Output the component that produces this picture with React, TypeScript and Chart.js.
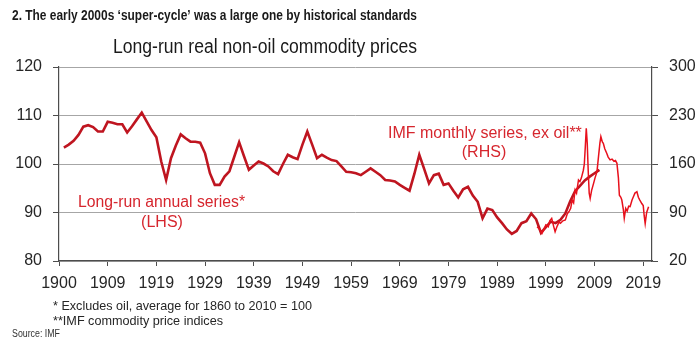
import React, { useEffect, useRef } from 'react';
import { Chart, registerables } from 'chart.js';

Chart.register(...registerables);

// ---------- DATA ----------
// x positions on the time axis (category index + 1900); tick labels as printed
const X_TICK_POSITIONS = [1900, 1910, 1920, 1930, 1940, 1950, 1960, 1970, 1980, 1990, 2000, 2010, 2020];
const X_TICK_LABELS = ['1900', '1909', '1919', '1929', '1939', '1949', '1959', '1969', '1979', '1989', '1999', '2009', '2019'];

const LHS_TICKS = [80, 90, 100, 110, 120];
const RHS_TICKS = [20, 90, 160, 230, 300];

// Long-run annual series (LHS), 1860-2010 average = 100
const ANNUAL_X = [
  1901, 1902, 1903, 1904, 1905, 1906, 1907, 1908, 1909, 1910,
  1911, 1912, 1913, 1914, 1915, 1916, 1917, 1918, 1919, 1920,
  1921, 1922, 1923, 1924, 1925, 1926, 1927, 1928, 1929, 1930,
  1931, 1932, 1933, 1934, 1935, 1936, 1937, 1938, 1939, 1940,
  1941, 1942, 1943, 1944, 1945, 1946, 1947, 1948, 1949, 1950,
  1951, 1952, 1953, 1954, 1955, 1956, 1957, 1958, 1959, 1960,
  1961, 1962, 1963, 1964, 1965, 1966, 1967, 1968, 1969, 1970,
  1971, 1972, 1973, 1974, 1975, 1976, 1977, 1978, 1979, 1980,
  1981, 1982, 1983, 1984, 1985, 1986, 1987, 1988, 1989, 1990,
  1991, 1992, 1993, 1994, 1995, 1996, 1997, 1998, 1999, 2000,
  2001, 2002, 2003, 2004, 2005, 2006, 2007, 2008, 2009, 2010, 2011,
];
const ANNUAL_Y = [
  103.4, 104.0, 104.8, 106.0, 107.7, 108.0, 107.6, 106.7, 106.7, 108.7,
  108.5, 108.2, 108.2, 106.5, 107.8, 109.2, 110.6, 108.8, 107.0, 105.5,
  100.5, 96.7, 101.2, 103.8, 106.1, 105.3, 104.6, 104.6, 104.4, 102.2,
  98.1, 95.7, 95.7, 97.4, 98.5, 101.5, 104.5, 101.6, 98.8, 99.7,
  100.5, 100.1, 99.5, 98.5, 97.9, 100.0, 101.9, 101.4, 101.0, 104.0,
  106.7, 104.0, 101.2, 101.9, 101.3, 100.8, 100.6, 99.5, 98.4, 98.3,
  98.1, 97.7, 98.4, 99.1, 98.4, 97.7, 96.7, 96.6, 96.4, 95.7,
  95.1, 94.5, 98.0, 101.9, 99.0, 96.0, 97.7, 98.0, 95.7, 96.0,
  94.5, 93.1, 94.8, 95.3, 93.5, 92.2, 88.8, 90.8, 90.5, 89.0,
  87.8, 86.5, 85.6, 86.2, 87.8, 88.2, 89.8, 88.6, 85.8, 87.0,
  88.1, 87.8, 88.5, 89.8, 92.3, 94.4, 95.5, 96.6, 97.4, 98.1, 98.8,
];

// IMF monthly series ex oil (RHS)
const MONTHLY_X = [
  1998.2, 1998.7, 1999.2, 1999.6, 2000.0, 2000.5, 2000.8, 2001.2, 2001.6, 2001.9,
  2002.3, 2002.7, 2003.0, 2003.5, 2004.0, 2004.4, 2004.8, 2005.1, 2005.4, 2005.7,
  2006.0, 2006.3, 2006.7, 2007.0, 2007.3, 2007.7, 2007.9, 2008.1, 2008.3, 2008.5,
  2008.7, 2008.9, 2009.1, 2009.4, 2009.8, 2010.1, 2010.5, 2010.8, 2011.1, 2011.3,
  2011.6, 2011.8, 2012.1, 2012.5, 2012.8, 2013.2, 2013.6, 2014.0, 2014.3, 2014.6,
  2014.9, 2015.1, 2015.4, 2015.6, 2015.9, 2016.1, 2016.4, 2016.7, 2017.0, 2017.3,
  2017.7, 2018.0, 2018.3, 2018.7, 2019.0, 2019.3, 2019.7, 2020.0, 2020.2, 2020.4,
  2020.7, 2021.1,
];
const MONTHLY_Y = [
  69.5, 66, 60, 66, 72, 69.5, 78, 81.6, 70, 62.3,
  70, 76, 74.4, 78, 79.2, 88, 92, 96, 108, 104,
  122.5, 118, 137, 134.5, 140, 151, 160, 185, 211.5, 190,
  150, 118, 110.5, 122, 132, 140, 149, 170, 190, 199.5,
  192, 190, 182, 175.5, 170, 166, 167, 164, 165, 161,
  140, 115, 112, 108, 95, 81.6, 96, 92, 99, 98.4,
  108, 113, 118, 120, 112, 108, 103, 100, 85, 74,
  90, 98.4,
];

// ---------- STYLE ----------
const FONT = '"Liberation Sans", Arial, sans-serif';
const NARROW = '"Liberation Sans Narrow", "Liberation Sans", Arial, sans-serif';
const RED_TEXT = '#d6262e';
const ANNUAL_COLOR = '#bf1520';
const MONTHLY_COLOR = '#e8101c';
const GRID = '#a6a6a6';
const AXIS = '#4d4d4d';
const TEXT = '#262626';

const textPlugin = {
  id: 'chartTexts',
  afterDraw(chart: any) {
    const ctx = chart.ctx as CanvasRenderingContext2D;
    const draw = (text: string, x: number, y: number, font: string, color: string, align: CanvasTextAlign, maxW?: number) => {
      ctx.font = font;
      ctx.fillStyle = color;
      ctx.textAlign = align;
      ctx.textBaseline = 'alphabetic';
      const w = ctx.measureText(text).width;
      if (maxW && w > maxW) ctx.fillText(text, x, y, maxW);
      else ctx.fillText(text, x, y);
    };
    ctx.save();
    draw('2. The early 2000s \u2018super-cycle\u2019 was a large one by historical standards', 12, 19.5, 'bold 15px ' + NARROW, '#1a1a1a', 'left', 405);
    draw('Long-run real non-oil commodity prices', 113, 52.5, '20px ' + FONT, '#1a1a1a', 'left', 304);
    draw('IMF monthly series, ex oil**', 388, 137.5, '16px ' + FONT, RED_TEXT, 'left', 194);
    draw('(RHS)', 484, 157, '16px ' + FONT, RED_TEXT, 'center');
    draw('Long-run annual series*', 78, 206.5, '16px ' + FONT, RED_TEXT, 'left', 167);
    draw('(LHS)', 162, 227, '16px ' + FONT, RED_TEXT, 'center');
    draw('* Excludes oil, average for 1860 to 2010 = 100', 53, 309.5, '13px ' + FONT, TEXT, 'left', 259);
    draw('**IMF commodity price indices', 53, 325, '13px ' + FONT, TEXT, 'left', 170);
    draw('Source: IMF', 12, 337, '10px ' + FONT, '#333333', 'left', 48);
    ctx.restore();
  },
};

export default function App() {
  const ref = useRef<HTMLCanvasElement | null>(null);

  useEffect(() => {
    if (!ref.current) return;
    const annual = ANNUAL_X.map((x, i) => ({ x, y: ANNUAL_Y[i] }));
    const monthly = MONTHLY_X.map((x, i) => ({ x, y: MONTHLY_Y[i] }));
    const chart = new Chart(ref.current, {
      type: 'line',
      data: {
        datasets: [
          {
            label: 'IMF monthly series, ex oil** (RHS)',
            data: monthly,
            yAxisID: 'yR',
            borderColor: MONTHLY_COLOR,
            borderWidth: 1.5,
            pointRadius: 0,
            tension: 0,
            order: 0,
          },
          {
            label: 'Long-run annual series* (LHS)',
            data: annual,
            yAxisID: 'yL',
            borderColor: ANNUAL_COLOR,
            borderWidth: 2.6,
            pointRadius: 0,
            tension: 0,
            order: 1,
          },
        ],
      },
      options: {
        animation: false,
        responsive: false,
        maintainAspectRatio: false,
        layout: { padding: { top: 67, left: 0, right: 0, bottom: 53 } },
        plugins: {
          legend: { display: false },
          tooltip: { enabled: false },
          title: { display: false },
        },
        scales: {
          x: {
            type: 'linear',
            min: X_TICK_POSITIONS[0],
            max: 2021.8,
            afterBuildTicks: (scale: any) => {
              scale.ticks = X_TICK_POSITIONS.map((v) => ({ value: v }));
            },
            afterFit: (scale: any) => {
              scale.height = 40;
            },
            ticks: {
              autoSkip: false,
              maxRotation: 0,
              padding: 8,
              color: TEXT,
              font: { family: FONT, size: 16 },
              callback: (v: any) => X_TICK_LABELS[X_TICK_POSITIONS.indexOf(Number(v))] ?? '',
            },
            grid: { display: true, drawOnChartArea: false, drawTicks: true, tickLength: 5, color: AXIS, tickColor: AXIS },
            border: { display: true, color: AXIS, width: 1.2 },
          },
          yL: {
            type: 'linear',
            position: 'left',
            min: LHS_TICKS[0],
            max: LHS_TICKS[LHS_TICKS.length - 1],
            afterBuildTicks: (scale: any) => {
              scale.ticks = LHS_TICKS.map((v) => ({ value: v }));
            },
            afterFit: (scale: any) => {
              scale.width = 59;
            },
            ticks: {
              padding: 11,
              color: TEXT,
              font: { family: FONT, size: 16 },
            },
            grid: { color: GRID, lineWidth: 1, drawTicks: true, tickLength: 6, tickColor: AXIS },
            border: { display: true, color: AXIS, width: 1.2 },
          },
          yR: {
            type: 'linear',
            position: 'right',
            min: RHS_TICKS[0],
            max: RHS_TICKS[RHS_TICKS.length - 1],
            afterBuildTicks: (scale: any) => {
              scale.ticks = RHS_TICKS.map((v) => ({ value: v }));
            },
            afterFit: (scale: any) => {
              scale.width = 48;
            },
            ticks: {
              padding: 11,
              color: TEXT,
              font: { family: FONT, size: 16 },
            },
            grid: { drawOnChartArea: false, drawTicks: true, tickLength: 6, color: AXIS, tickColor: AXIS },
            border: { display: true, color: AXIS, width: 1.2 },
          },
        },
      },
      plugins: [textPlugin],
    });
    return () => chart.destroy();
  }, []);

  return (
    <div style={{ position: 'fixed', left: 0, top: 0, width: 700, height: 354, background: '#ffffff' }}>
      <canvas ref={ref} width={700} height={354} style={{ display: 'block', width: 700, height: 354 }} />
    </div>
  );
}
